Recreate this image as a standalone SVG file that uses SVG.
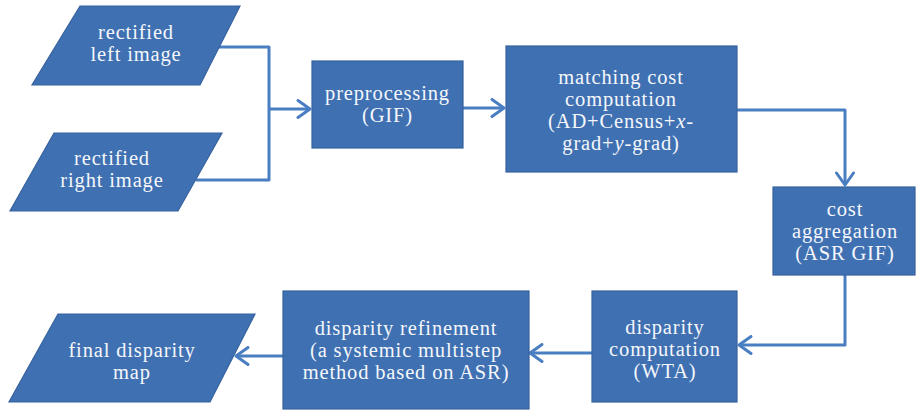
<svg xmlns="http://www.w3.org/2000/svg" width="916" height="411" viewBox="0 0 916 411">
  <style>
    .shape { fill: #3f70b2; stroke: #36629f; stroke-width: 1.2; }
    .label { font-family: "Liberation Serif", "Times New Roman", serif; font-size: 20.5px; fill: #f5f7fb; text-anchor: middle; letter-spacing: 0.85px; }
    .wire { fill: none; stroke: #4a7ec2; stroke-width: 3; stroke-linejoin: round; }
    .m { font-style: italic; }
  </style>
  <defs>
    <marker id="arrow" markerUnits="userSpaceOnUse" viewBox="0 0 16 20" refX="14" refY="10" markerWidth="16" markerHeight="20" orient="auto">
      <path d="M2,1.5 L14,10 L2,18.5" fill="none" stroke="#4a7ec2" stroke-width="3" stroke-linecap="round" stroke-linejoin="round"/>
    </marker>
  </defs>

  <!-- connectors -->
  <g id="connectors">
    <path class="wire" d="M219 47 H269 V180 H196"/>
    <path class="wire" d="M269 109 H310" marker-end="url(#arrow)"/>
    <path class="wire" d="M463 108 H504" marker-end="url(#arrow)"/>
    <path class="wire" d="M737 110 H845 V185" marker-end="url(#arrow)"/>
    <path class="wire" d="M845 275 V345 H739" marker-end="url(#arrow)"/>
    <path class="wire" d="M592 353 H530" marker-end="url(#arrow)"/>
    <path class="wire" d="M283 356 H236" marker-end="url(#arrow)"/>
  </g>

  <g id="left-image">
    <polygon class="shape" points="80,6 240,6 200,85 32,85"/>
    <text class="label" x="136" y="39">rectified</text>
    <text class="label" x="136" y="61">left image</text>
  </g>

  <g id="right-image">
    <polygon class="shape" points="54,133 222,133 178,211 10,211"/>
    <text class="label" x="112" y="165">rectified</text>
    <text class="label" x="112" y="187">right image</text>
  </g>

  <g id="preprocessing">
    <rect class="shape" x="312" y="61" width="151" height="87"/>
    <text class="label" x="387.5" y="100">preprocessing</text>
    <text class="label" x="387.5" y="122">(GIF)</text>
  </g>

  <g id="matching-cost">
    <rect class="shape" x="506" y="46" width="231" height="126"/>
    <text class="label" x="621" y="84">matching cost</text>
    <text class="label" x="621" y="106">computation</text>
    <text class="label" x="621" y="128">(AD+Census+<tspan class="m">x</tspan>-</text>
    <text class="label" x="621" y="150">grad+<tspan class="m">y</tspan>-grad)</text>
  </g>

  <g id="cost-aggregation">
    <rect class="shape" x="773" y="187" width="142" height="88"/>
    <text class="label" x="845" y="216">cost</text>
    <text class="label" x="845" y="238">aggregation</text>
    <text class="label" x="845" y="260">(ASR GIF)</text>
  </g>

  <g id="disparity-computation">
    <rect class="shape" x="592" y="291" width="145" height="111"/>
    <text class="label" x="665" y="334">disparity</text>
    <text class="label" x="665" y="356">computation</text>
    <text class="label" x="665" y="378">(WTA)</text>
  </g>

  <g id="disparity-refinement">
    <rect class="shape" x="283" y="291" width="246" height="118"/>
    <text class="label" x="406" y="335">disparity refinement</text>
    <text class="label" x="406" y="357">(a systemic multistep</text>
    <text class="label" x="406" y="379">method based on ASR)</text>
  </g>

  <g id="final-map">
    <polygon class="shape" points="58,314 255,314 210,402 9,402"/>
    <text class="label" x="132" y="357">final disparity</text>
    <text class="label" x="132" y="379">map</text>
  </g>
</svg>
